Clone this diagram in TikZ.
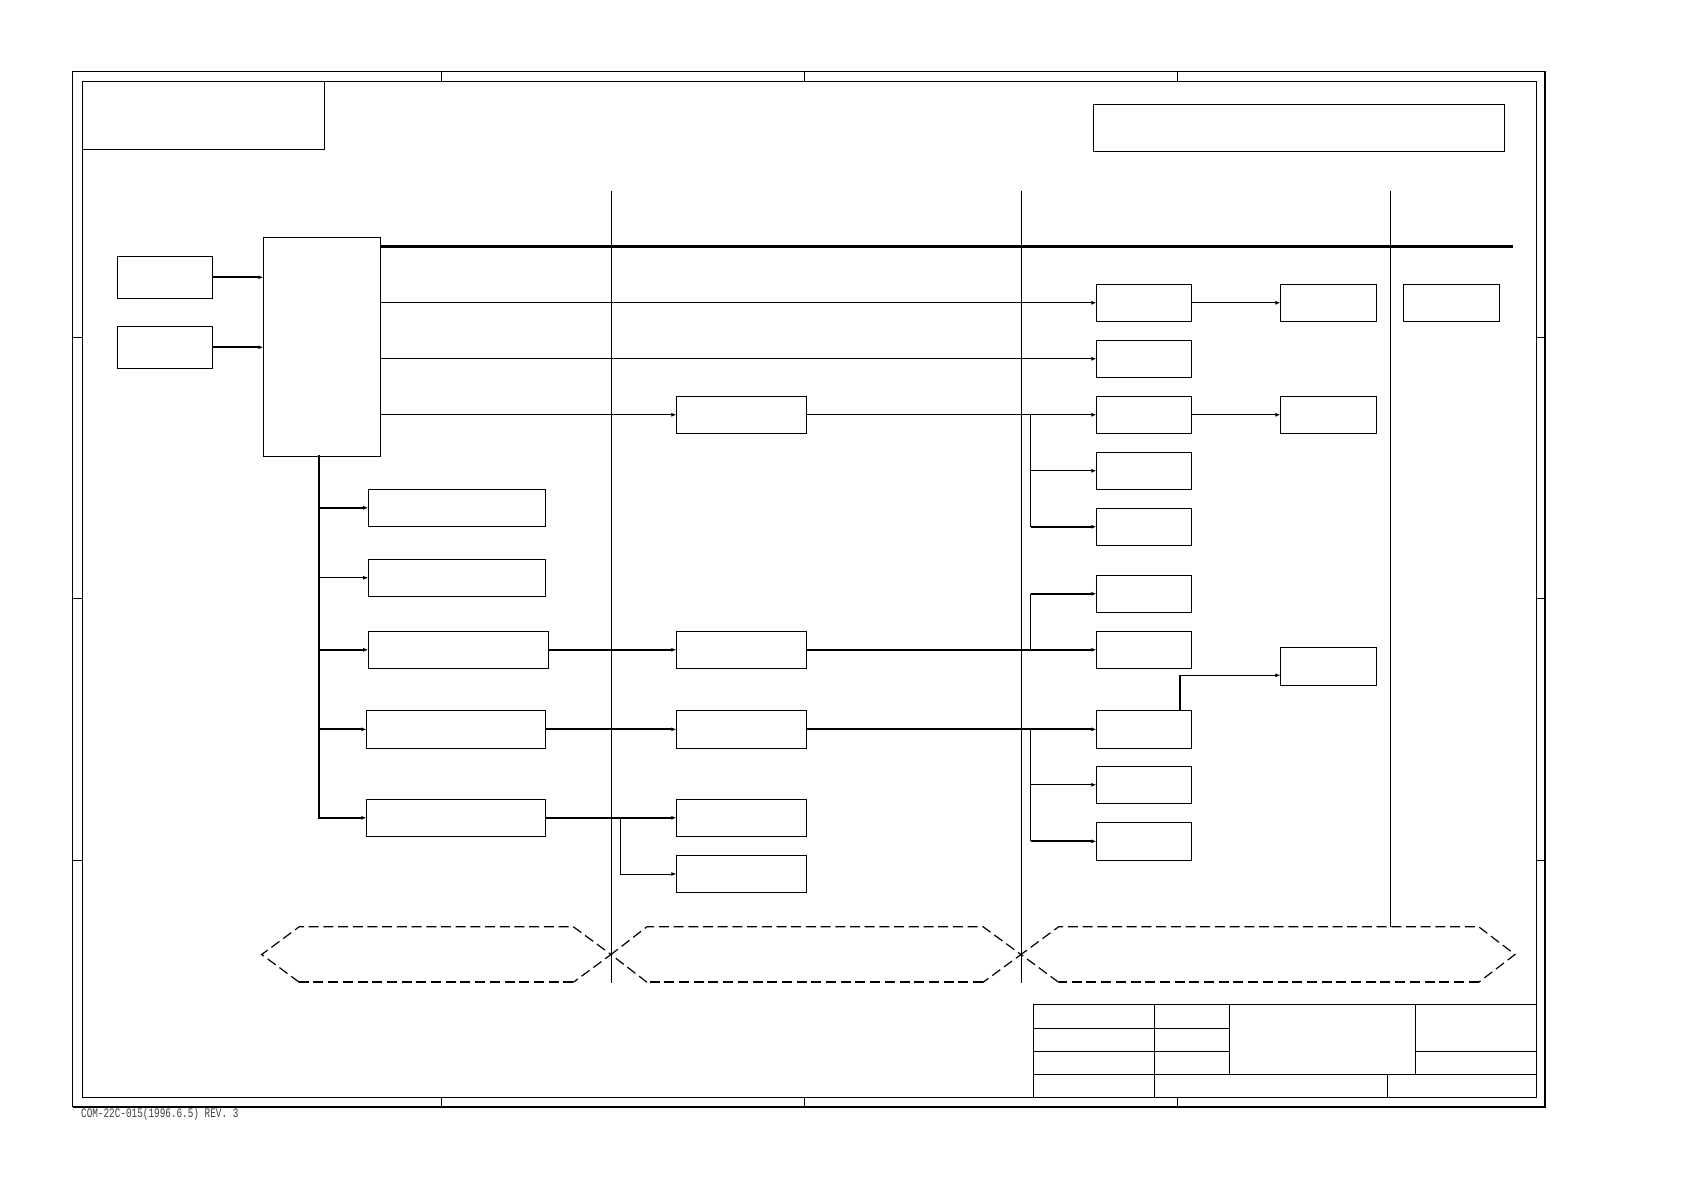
\documentclass[tikz,border=0pt]{standalone}
\usepackage{fontspec}
\newfontfamily\monof{Liberation Mono}
\usetikzlibrary{arrows.meta}
\tikzset{
  blk/.style={draw, line width=1pt, inner sep=0pt, outer sep=0pt, anchor=north west},
  thinc/.style={line width=0.8pt},
  thickc/.style={line width=1.8pt},
  arr/.style={-{Latex[length=5pt,width=4pt]}},
  frame/.style={line width=1pt},
  hexa/.style={line width=1.2pt, dash pattern=on 10pt off 4.7pt, line join=miter},
  hexb/.style={line width=2pt, dash pattern=on 10pt off 4.7pt},
}
\newcommand{\bx}[5]{\node[blk, minimum width=#4pt, minimum height=#5pt] (#1) at (#2,#3) {};}
\newcommand{\hexg}[6]{% left tip x, left corner x, right corner x, right tip x, top y, bottom y
  \draw[hexa] (#2,#6) -- (#1,{(#5+#6)/2}) -- (#2,#5) -- (#3,#5) -- (#4,{(#5+#6)/2}) -- (#3,#6);
  \draw[hexb] (#3,#6) -- (#2,#6);}
\begin{document}
\begin{tikzpicture}[x=1pt,y=-1pt]
\useasboundingbox (0,0) rectangle (1684,1190);
% ---- sheet frame
\draw[line width=0.8pt] (72.7,71.3) rectangle (1545.3,1106.7);
\draw[line width=2pt] (72.7,1106.7) -- (1545.3,1106.7) -- (1545.3,71.3);
\draw[frame] (82.3,81.3) rectangle (1536.3,1097.3);
\foreach \x in {441.5,804.5,1177.5}{
  \draw[frame] (\x,71.3) -- (\x,81.3);
  \draw[frame] (\x,1097.3) -- (\x,1106.7);
}
\foreach \y in {337,598.5,860.5}{
  \draw[frame] (72.7,\y) -- (82.3,\y);
  \draw[frame] (1536.3,\y) -- (1545.3,\y);
}
\draw[frame] (82.3,150) -- (324.3,150) -- (324.3,81.3);
\draw[frame] (1093.3,104.3) rectangle (1504.7,151.3);
% ---- title block
\draw[frame] (1033.2,1097.3) -- (1033.2,1004.3) -- (1536.3,1004.3);
\draw[frame] (1033.2,1028.3) -- (1229.3,1028.3);
\draw[frame] (1033.2,1051.3) -- (1229.3,1051.3);
\draw[frame] (1033.2,1074.3) -- (1536.3,1074.3);
\draw[frame] (1154.6,1004.3) -- (1154.6,1097.3);
\draw[frame] (1229.3,1004.3) -- (1229.3,1074.3);
\draw[frame] (1415.4,1004.3) -- (1415.4,1074.3);
\draw[frame] (1415.4,1051.3) -- (1536.3,1051.3);
\draw[frame] (1387.5,1074.3) -- (1387.5,1097.3);
\node[font=\monof\fontsize{13}{13}\selectfont, anchor=base west, inner sep=0pt,
      xscale=0.72, transform shape, text=black!75] (rev) at (81,1117.3) {COM-22C-015(1996.6.5) REV. 3};
% ---- column dividers
\draw[thinc] (611.1,191) -- (611.1,983);
\draw[thinc] (1021.3,191) -- (1021.3,983);
\draw[thinc] (1390.3,191) -- (1390.3,926.7);
% ---- boxes
\bx{S1}{117.7}{256.3}{94.7}{42}
\bx{S2}{117.7}{326.3}{94.7}{42}
\bx{MB}{263.3}{237.3}{117.1}{219}
\bx{B1}{368.2}{489.3}{177.7}{37}
\bx{B2}{368.2}{559.3}{177.7}{37}
\bx{B3}{368.2}{631.3}{179.9}{37}
\bx{B4}{366.4}{710.3}{179.5}{38}
\bx{B5}{366.4}{799.3}{179.5}{37}
\bx{M1}{676.3}{396.3}{130.6}{37}
\bx{M2}{676.3}{631.3}{130.6}{37}
\bx{M3}{676.3}{710.3}{130.6}{38}
\bx{M4}{676.3}{799.3}{130.6}{37}
\bx{M5}{676.3}{855.7}{130.6}{36.6}
\bx{R1}{1096.3}{284.3}{95.4}{37}
\bx{R2}{1096.3}{340.3}{95.4}{37}
\bx{R3}{1096.3}{396.3}{95.4}{37}
\bx{R4}{1096.3}{452.3}{95.4}{37}
\bx{R5}{1096.3}{508.3}{95.4}{37}
\bx{R6}{1096.3}{575.3}{95.4}{37}
\bx{R7}{1096.3}{631.3}{95.4}{37}
\bx{R8}{1096.3}{710.3}{95.4}{38}
\bx{R9}{1096.3}{766.3}{95.4}{37}
\bx{R10}{1096.3}{822.3}{95.4}{38}
\bx{FR1}{1280.3}{284.3}{96.4}{37}
\bx{FR2}{1280.3}{396.3}{96.4}{37}
\bx{FR3}{1280.3}{647.3}{96.4}{38}
\bx{E1}{1403.3}{284.3}{96.4}{37}
% ---- inputs and bus
\draw[thickc,arr] (S1.east) -- (S1.east -| MB.west);
\draw[thickc,arr] (S2.east) -- (S2.east -| MB.west);
\coordinate (busend) at (1512.7,246.3);
\draw[line width=2.8pt] (busend -| MB.east) -- (busend);
\draw[thinc,arr] (R1.west -| MB.east) -- (R1.west);
\draw[thinc,arr] (R2.west -| MB.east) -- (R2.west);
\draw[thinc,arr] (M1.west -| MB.east) -- (M1.west);
% ---- trunk
\coordinate (trk) at (319,456.3);
\draw[line width=2.6pt, line cap=rect] (trk) -- (B5.west -| trk);
\draw[thickc,arr] (B1.west -| trk) -- (B1.west);
\draw[thinc,arr] (B2.west -| trk) -- (B2.west);
\draw[thickc,arr] (B3.west -| trk) -- (B3.west);
\draw[thickc,arr] (B4.west -| trk) -- (B4.west);
\draw[thickc,arr] (B5.west -| trk) -- (B5.west);
% ---- middle column
\draw[thickc,arr] (B3.east) -- (M2.west);
\draw[thickc,arr] (B4.east) -- (M3.west);
\draw[thickc,arr] (B5.east) -- (M4.west);
\coordinate (jm) at (620.2,0);
\draw[thinc,arr] (B5.east -| jm) |- (M5.west);
% ---- right column
\coordinate (jr) at (1030.7,0);
\draw[thinc,arr] (M1.east) -- (R3.west);
\draw[thinc] (M1.east -| jr) -- (R5.west -| jr);
\draw[thinc,arr] (R4.west -| jr) -- (R4.west);
\draw[thickc,arr] (R5.west -| jr) -- (R5.west);
\draw[thickc,arr] (M2.east) -- (R7.west);
\draw[thinc] (R7.west -| jr) -- (R6.west -| jr);
\draw[thickc,arr] (R6.west -| jr) -- (R6.west);
\draw[thickc,arr] (M3.east) -- (R8.west);
\draw[thinc] (R8.west -| jr) -- (R10.west -| jr);
\draw[thinc,arr] (R9.west -| jr) -- (R9.west);
\draw[thickc,arr] (R10.west -| jr) -- (R10.west);
\draw[thinc,arr] (R1.east) -- (FR1.west);
\draw[thinc,arr] (R3.east) -- (FR2.west);
\coordinate (e1) at (1180,675.3);
\draw[thickc] (R8.north -| e1) -- (e1);
\draw[thinc,arr] (e1) -- (e1 -| FR3.west);
% ---- dashed hexagons
\hexg{261.7}{299.3}{573.3}{611}{926.7}{982.3}
\hexg{611}{647}{983}{1021}{926.7}{982.3}
\hexg{1021}{1058.7}{1478.6}{1515}{926.7}{982.3}
\end{tikzpicture}
\end{document}
